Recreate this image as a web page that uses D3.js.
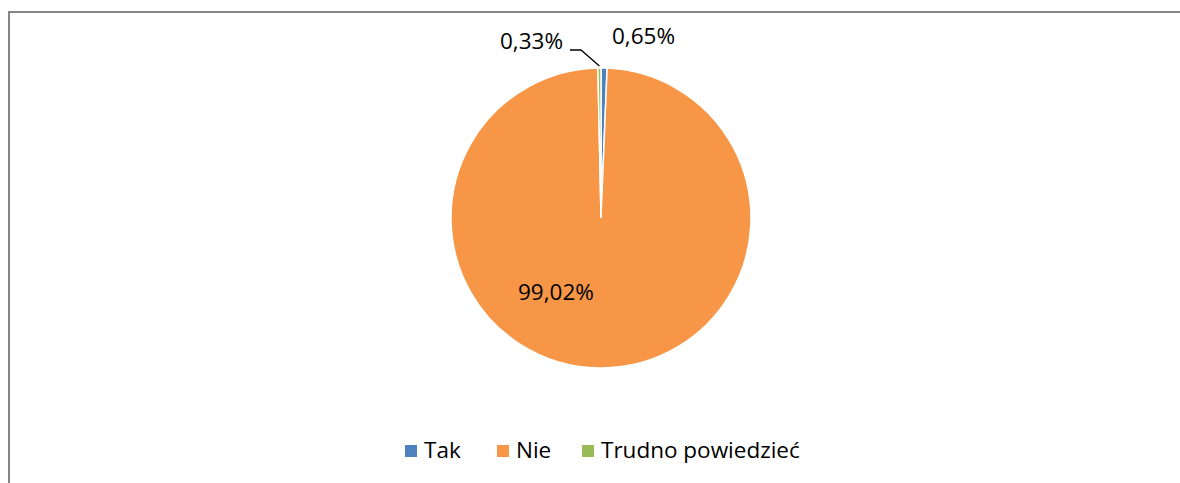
<!DOCTYPE html>
<html>
<head>
<meta charset="utf-8">
<script src="https://cdn.jsdelivr.net/npm/d3@7"></script>
<style>
  body { margin: 0; background: #fff; }
  text { font-family: "Open Sans", "Liberation Sans", sans-serif; fill: #000; }
</style>
</head>
<body>
<div id="chart"></div>
<script>
const categories = ['Tak', 'Nie', 'Trudno powiedzieć']
const values = [0.65, 99.02, 0.33]
const labels = ['0,65%', '99,02%', '0,33%']
const colors = ['#4f81bd', '#f79646', '#9bbb59']

const width = 1180, height = 483
const cx = 601, cy = 218, r = 150

const svg = d3.select('#chart')
    .append('svg')
    .attr('width', width)
    .attr('height', height)

// chart frame, clipped at the right and bottom
svg.append('path')
    .attr('d', `M9,${height} V12 H${width}`)
    .attr('fill', 'none')
    .attr('stroke', '#868686')
    .attr('stroke-width', 2)

const pie = d3.pie().sort(null).value(d => d)
const arcs = pie(values)
const arc = d3.arc().innerRadius(0).outerRadius(r)

const g = svg.append('g').attr('transform', `translate(${cx},${cy})`)

g.selectAll('path')
  .data(arcs)
  .join('path')
  .attr('d', arc)
  .attr('fill', (d, i) => colors[i])
  .attr('stroke', '#fff')
  .attr('stroke-width', 1.5)

// data labels
const labelPos = [[612, 44], [518, 300], [500, 49]]
svg.selectAll('text.lbl')
  .data(labels)
  .join('text')
  .attr('class', 'lbl')
  .attr('x', (d, i) => labelPos[i][0])
  .attr('y', (d, i) => labelPos[i][1])
  .attr('font-size', 22.5)
  .text(d => d)

// leader line for the small slice
const small = arcs[2]
const mid = (small.startAngle + small.endAngle) / 2
const edge = [cx + Math.sin(mid) * (r + 2), cy - Math.cos(mid) * (r + 2)]
svg.append('path')
    .attr('d', `M570,50 H581 L${edge[0]},${edge[1]}`)
    .attr('fill', 'none')
    .attr('stroke', '#000')
    .attr('stroke-width', 1.3)

// legend
const legendX = [405, 497, 582]
const legend = svg.append('g')
legend.selectAll('rect')
  .data(categories)
  .join('rect')
  .attr('x', (d, i) => legendX[i])
  .attr('y', 445)
  .attr('width', 12)
  .attr('height', 12)
  .attr('fill', (d, i) => colors[i])
legend.selectAll('text')
  .data(categories)
  .join('text')
  .attr('x', (d, i) => legendX[i] + 19)
  .attr('y', 458)
  .attr('font-size', 22.5)
  .text(d => d)
</script>
</body>
</html>
